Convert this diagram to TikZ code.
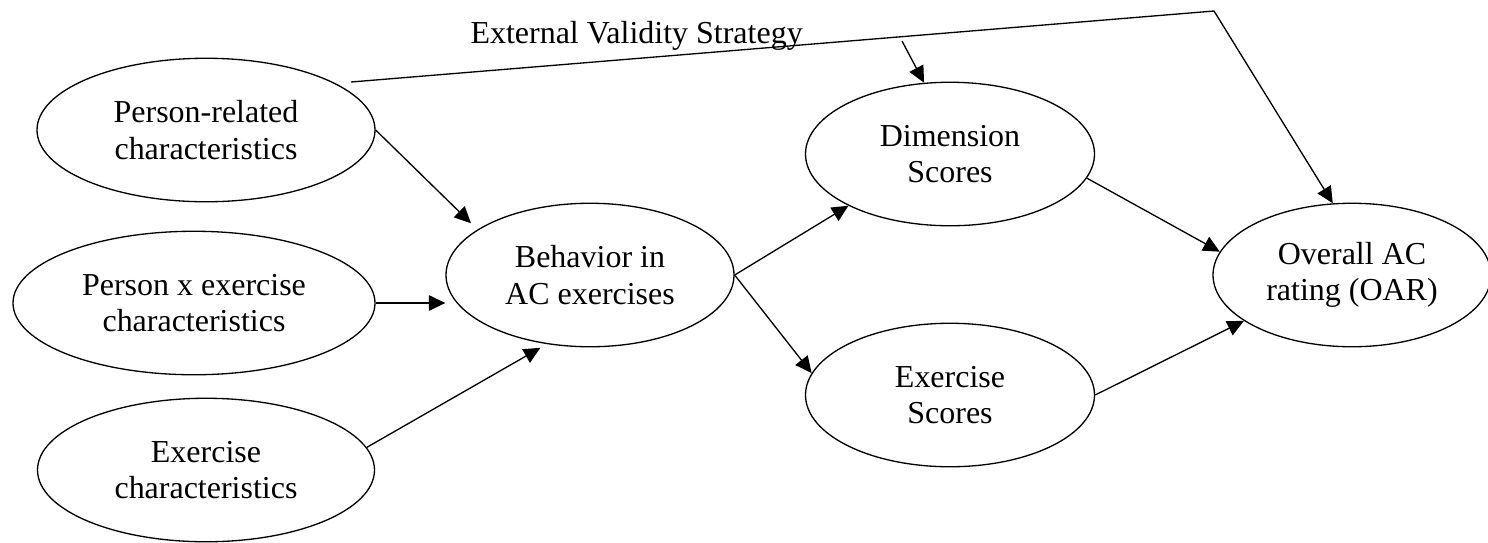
\documentclass[tikz,border=0pt]{standalone}
\usepackage{fontspec}
\setmainfont{Liberation Serif}
\usetikzlibrary{calc,shapes,arrows.meta}

\begin{document}
\begin{tikzpicture}[line width=0.75pt, ->, >={Triangle[length=0.33cm,width=0.31cm]},
  every node/.style={font=\fontsize{18.2}{20.8}\selectfont},
  construct/.style={draw,ellipse,inner sep=0pt,align=center,minimum height=2.87cm}]
  \useasboundingbox (0,0) rectangle (29.76,-10.84);

  %characteristics on the left
  \node [construct,minimum width=6.76cm] (prc) at (4.12,-2.60) {Person-related\\characteristics};
  \node [construct,minimum width=7.24cm] (pxe) at (3.88,-6.06) {Person x exercise\\characteristics};
  \node [construct,minimum width=6.74cm] (exc) at (4.12,-9.40) {Exercise\\characteristics};

  %behavior and the scores
  \node [construct,minimum width=5.76cm] (beh) at (11.80,-5.50) {Behavior in\\AC exercises};
  \node [construct,minimum width=5.78cm] (dim) at (19.00,-3.08) {Dimension\\Scores};
  \node [construct,minimum width=5.78cm] (exs) at (19.00,-7.90) {Exercise\\Scores};
  \node [construct,minimum width=5.56cm] (oar) at (27.04,-5.50) {Overall AC\\rating (OAR)};

  \path  (prc.east) edge [shorten >=0.18cm] (beh.158);
  \draw  (pxe.east) -- (pxe.east -| beh.west);
  \path  (exc.8) edge [shorten >=0.15cm] (beh.238);
  \path  (beh.east) edge (dim.207);
  \path  (beh.east) edge (exs.171);
  \path  (dim.350) edge (oar.170);
  \path  (exs.east) edge (oar.203);

  %validity strategy line
  \node [anchor=base west] (evslabel) at (9.28,-0.86) {External Validity Strategy};
  \coordinate (evs) at (7.02,-1.64);
  \coordinate (bend) at (24.28,-0.22);
  \coordinate (split) at (18.04,-0.82);
  \draw  (evs) -- (bend) -- (oar.105);
  \draw  (split) -- (dim.110);

  \end{tikzpicture}
\end{document}
